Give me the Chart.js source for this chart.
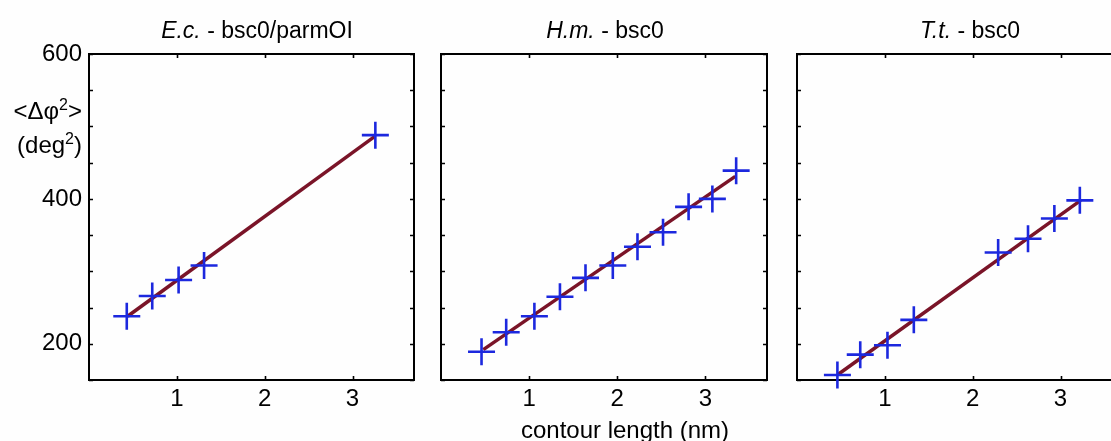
<!DOCTYPE html>
<html>
<head>
<meta charset="utf-8">
<script src="https://cdn.jsdelivr.net/npm/chart.js@4.4.1/dist/chart.umd.min.js"></script>
<style>
  html, body { margin: 0; padding: 0; background: #fefefe; overflow: hidden; width: 1111px; height: 441px; }
  canvas { position: absolute; top: 0; }
</style>
</head>
<body>
<canvas id="panel-ec" width="420" height="441" style="left:0px"></canvas>
<canvas id="panel-hm" width="370" height="441" style="left:420px"></canvas>
<canvas id="panel-tt" width="360" height="441" style="left:780px"></canvas>
<script>
// Datos: longitud de contorno (nm) vs <Δφ²> (deg²)
const ecX = [0.43, 0.72, 1.02, 1.31, 3.26];
const ecY = [238, 266, 288, 308, 488];
const ecFitX = [0.44, 3.25];
const ecFitY = [238, 486];

const hmX = [0.46, 0.74, 1.06, 1.35, 1.64, 1.95, 2.23, 2.52, 2.81, 3.08, 3.35];
const hmY = [189, 216, 238, 265, 291, 308, 334, 354, 389, 400, 439];
const hmFitX = [0.48, 3.34];
const hmFitY = [192, 431];

const ttX = [0.46, 0.72, 1.03, 1.33, 2.29, 2.63, 2.93, 3.22];
const ttY = [157, 185, 198, 233, 326, 345, 373, 398];
const ttFitX = [0.47, 3.23];
const ttFitY = [158, 398];

const xTickLabels = [1, 2, 3];
const yTickLabels = [200, 400, 600];

const FONT = '"Liberation Sans", Arial, Helvetica, sans-serif';
const AZUL = '#1c28de';
const GRANATE = '#7a1428';

// convierte dos arrays en puntos {x, y}
function puntos(xs, ys) {
    return xs.map((x, i) => ({ x: x, y: ys[i] }));
}

// dibuja una línea de texto con trozos (cursiva, superíndice)
function textoCompuesto(ctx, partes, x, y, align, size) {
    const fuente = p => (p.italic ? 'italic ' : '') + (p.sup ? Math.round(size * 0.66) : size) + 'px ' + FONT;
    const anchos = partes.map(p => {
        ctx.font = fuente(p);
        return ctx.measureText(p.t).width;
    });
    const total = anchos.reduce((a, b) => a + b, 0);
    let cx = align === 'right' ? x - total : x - total / 2;
    ctx.textAlign = 'left';
    ctx.textBaseline = 'alphabetic';
    partes.forEach((p, i) => {
        ctx.font = fuente(p);
        ctx.fillText(p.t, cx, p.sup ? y - 9 : y);
        cx += anchos[i];
    });
}

// marco, marcas hacia dentro y textos
const marcoPlugin = {
    id: 'marco',
    beforeDatasetsDraw(chart) {
        const ctx = chart.ctx;
        const a = chart.chartArea;
        const sx = chart.scales.x;
        const sy = chart.scales.y;
        ctx.save();
        ctx.strokeStyle = '#000';
        ctx.lineWidth = 1.6;
        ctx.beginPath();
        sy.ticks.forEach(t => {
            const py = Math.round(sy.getPixelForValue(t.value)) + 0.5;
            ctx.moveTo(a.left, py); ctx.lineTo(a.left + 4, py);
            ctx.moveTo(a.right, py); ctx.lineTo(a.right - 4, py);
        });
        xTickLabels.forEach(v => {
            const px = Math.round(sx.getPixelForValue(v)) + 0.5;
            ctx.moveTo(px, a.bottom); ctx.lineTo(px, a.bottom - 4);
            ctx.moveTo(px, a.top); ctx.lineTo(px, a.top + 4);
        });
        ctx.stroke();
        ctx.lineWidth = 2;
        ctx.strokeRect(a.left, a.top, a.right - a.left, a.bottom - a.top);
        ctx.restore();
    },
    afterDraw(chart, args, opts) {
        const ctx = chart.ctx;
        ctx.save();
        ctx.fillStyle = '#000';
        if (opts.titulo) textoCompuesto(ctx, opts.titulo, opts.tituloX, 38, 'center', 23);
        (opts.extras || []).forEach(e => textoCompuesto(ctx, e.partes, e.x, e.y, e.align, 24));
        ctx.restore();
    }
};

function crearPanel(id, xs, ys, fitX, fitY, conf) {
    const ctx = document.getElementById(id).getContext('2d');
    return new Chart(ctx, {
        type: 'scatter',
        data: {
            datasets: [
                {
                    data: puntos(xs, ys),
                    pointStyle: 'cross',
                    pointRadius: 13.5,
                    pointHoverRadius: 13.5,
                    pointBorderWidth: 2.6,
                    borderColor: AZUL,
                    backgroundColor: AZUL,
                    showLine: false,
                    clip: false
                },
                {
                    data: puntos(fitX, fitY),
                    showLine: true,
                    borderColor: GRANATE,
                    borderWidth: 3.5,
                    pointRadius: 0,
                    clip: false
                }
            ]
        },
        options: {
            responsive: false,
            animation: false,
            layout: {
                autoPadding: false,
                padding: { top: 54, right: conf.derecha, left: 0, bottom: 0 }
            },
            plugins: {
                legend: { display: false },
                tooltip: { enabled: false },
                marco: conf.marco
            },
            scales: {
                x: {
                    type: 'linear',
                    min: 0,
                    max: 3.7,
                    grid: { display: false, drawTicks: false },
                    border: { display: false },
                    ticks: {
                        stepSize: 1,
                        autoSkip: false,
                        maxRotation: 0,
                        padding: 5,
                        color: '#000',
                        font: { family: FONT, size: 24 },
                        callback: v => xTickLabels.includes(v) ? String(v) : ''
                    },
                    afterFit: s => {
                        s.height = 61;
                        s.paddingLeft = 0;
                        s.paddingRight = 0;
                    }
                },
                y: {
                    type: 'linear',
                    min: 150,
                    max: 600,
                    grid: { display: false, drawTicks: false },
                    border: { display: false },
                    ticks: {
                        stepSize: 50,
                        autoSkip: false,
                        padding: 7,
                        color: '#000',
                        font: { family: FONT, size: 24 },
                        callback: v => (conf.etiquetasY && yTickLabels.includes(v)) ? String(v) : ''
                    },
                    afterFit: s => {
                        s.width = conf.izquierda;
                        s.paddingTop = 0;
                        s.paddingBottom = 0;
                    }
                }
            }
        },
        plugins: [marcoPlugin]
    });
}

crearPanel('panel-ec', ecX, ecY, ecFitX, ecFitY, {
    izquierda: 89, derecha: 6, etiquetasY: true,
    marco: {
        titulo: [{ t: 'E.c.', italic: true }, { t: ' - bsc0/parmOI' }],
        tituloX: 257,
        extras: [
            { partes: [{ t: '<Δφ' }, { t: '2', sup: true }, { t: '>' }], x: 82, y: 119, align: 'right' },
            { partes: [{ t: '(deg' }, { t: '2', sup: true }, { t: ')' }], x: 82, y: 153, align: 'right' }
        ]
    }
});

crearPanel('panel-hm', hmX, hmY, hmFitX, hmFitY, {
    izquierda: 21, derecha: 23, etiquetasY: false,
    marco: {
        titulo: [{ t: 'H.m.', italic: true }, { t: ' - bsc0' }],
        tituloX: 185,
        extras: [
            { partes: [{ t: 'contour length (nm)' }], x: 205, y: 438, align: 'center' }
        ]
    }
});

crearPanel('panel-tt', ttX, ttY, ttFitX, ttFitY, {
    izquierda: 17, derecha: 18, etiquetasY: false,
    marco: {
        titulo: [{ t: 'T.t.', italic: true }, { t: ' - bsc0' }],
        tituloX: 190,
        extras: []
    }
});
</script>
</body>
</html>
